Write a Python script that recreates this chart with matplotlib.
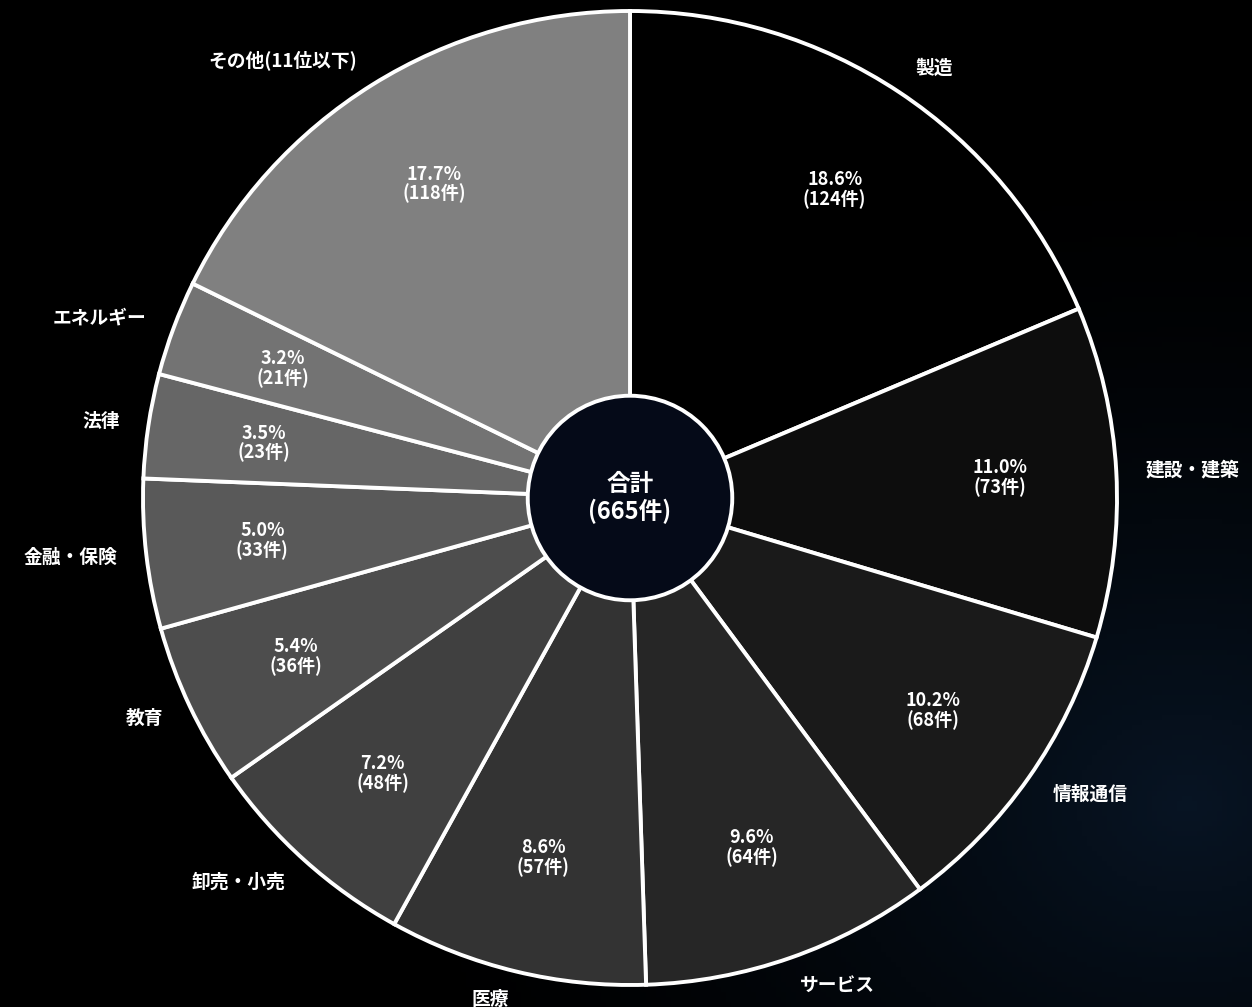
import numpy as np
import matplotlib
matplotlib.use("Agg")
import matplotlib.pyplot as plt

plt.rcParams["font.family"] = ["Noto Sans CJK JP", "DejaVu Sans"]

# industry categories, clockwise from the top
categories = ["製造", "建設・建築", "情報通信", "サービス", "医療", "卸売・小売",
              "教育", "金融・保険", "法律", "エネルギー", "その他(11位以下)"]
counts = [124, 73, 68, 64, 57, 48, 36, 33, 23, 21, 118]
total_label = "合計\n(665件)"

# grey ramp: black for the largest sector, lighter as we go round
colors = ["#000000", "#0d0d0d", "#1a1a1a", "#262626", "#333333", "#404040",
          "#4d4d4d", "#595959", "#666666", "#737373", "#808080"]

W, H = 1252, 1007
fig = plt.figure(figsize=(W / 100, H / 100), dpi=100)
fig.patch.set_facecolor("black")

# black background with a faint navy glow toward the bottom right
bg = fig.add_axes([0, 0, 1, 1])
yy, xx = np.mgrid[0:1:200j, 0:1:250j]
glow = np.clip(1.0 - np.hypot(xx - 0.95, yy - 0.2) / 0.7, 0, 1) ** 1.8
img = np.zeros((200, 250, 3))
img[..., 0] = 0.03 * glow
img[..., 1] = 0.08 * glow
img[..., 2] = 0.14 * glow
bg.imshow(img, origin="lower", extent=[0, 1, 0, 1], aspect="auto")
bg.axis("off")

# pie axes: centre (630, 498) px, radius 487 px
cx, cy, R = 630, 498, 487
ax = fig.add_axes([(cx - R) / W, (H - cy - R) / H, 2 * R / W, 2 * R / H])
ax.set_facecolor("none")

total = sum(counts)
wedges, texts, autotexts = ax.pie(
    counts,
    labels=categories,
    colors=colors,
    startangle=90,
    counterclock=False,
    radius=1.0,
    labeldistance=1.06,
    pctdistance=0.76,
    autopct=lambda p: f"{p:.1f}%\n({int(round(p * total / 100))}件)",
    wedgeprops=dict(edgecolor="white", linewidth=2.8),
    textprops=dict(color="white", fontsize=13.5, fontweight="bold"),
)
for t in autotexts:
    t.set_fontsize(13)
    t.set_linespacing(1.0)

# centre hole with total
hole = plt.Circle((0, 0), 0.21, facecolor="#050a18", edgecolor="white",
                  linewidth=2.8, zorder=5)
ax.add_patch(hole)
ax.text(0, 0, total_label, ha="center", va="center", color="white",
        fontsize=17, fontweight="bold", linespacing=1.1, zorder=6)

ax.set_xlim(-1, 1)
ax.set_ylim(-1, 1)
ax.set_aspect("equal")
ax.axis("off")

fig.savefig("out.png", dpi=100, facecolor=fig.get_facecolor())
